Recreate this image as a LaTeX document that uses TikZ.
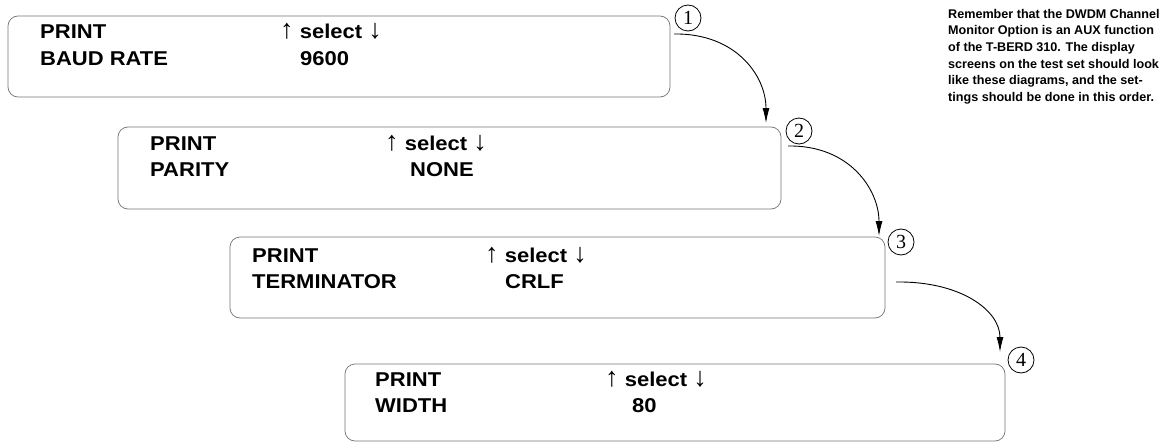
\documentclass[tikz,border=0pt]{standalone}
\usepackage{fontspec}
\setmainfont{Liberation Sans}
\newfontfamily\boxfont[FakeStretch=1.1]{Liberation Sans}
\newfontfamily\seriffont{Liberation Serif}
\usetikzlibrary{arrows.meta}
\tikzset{
  screen/.style={draw=black!55, line width=0.7pt, rounded corners=10pt, anchor=north west, inner sep=0pt, outer sep=0pt, minimum height=81pt},
  lbl/.style={anchor=base west, inner sep=0pt, font=\boxfont\bfseries\fontsize{20}{24}\selectfont},
  num/.style={circle, draw, line width=0.8pt, minimum size=26pt, inner sep=0pt, font=\seriffont\fontsize{20}{20}\selectfont},
  flow/.style={line width=0.9pt, -{Latex[length=15pt,width=7pt]}},
  note/.style={anchor=north west, inner sep=0pt, align=left, font=\bfseries\fontsize{12.6}{16.6}\selectfont}
}
\newcommand{\arrowglyph}[1]{{\seriffont\mdseries\fontsize{27}{27}\selectfont\char"#1}}
\newcommand{\sel}{\arrowglyph{2191}\ select\ \arrowglyph{2193}}
\begin{document}
\begin{tikzpicture}[x=1pt,y=-1pt]
\useasboundingbox (0,0) rectangle (1165,444);
% screens
\node[screen, minimum width=662pt] (s1) at (8,16) {};
\node[screen, minimum width=663pt, minimum height=82pt] (s2) at (118,127) {};
\node[screen, minimum width=655pt] (s3) at (230,237) {};
\node[screen, minimum width=660pt, minimum height=77pt] (s4) at (345,364) {};
% screen 1
\node[lbl] (p1) at (40,39) {PRINT};
\node[lbl] (k1) at (40,66) {BAUD RATE};
\node[lbl] (u1) at (280,39) {\sel};
\node[lbl] (v1) at (300,66) {9600};
% screen 2
\node[lbl] (p2) at (150,150) {PRINT};
\node[lbl] (k2) at (150,176) {PARITY};
\node[lbl] (u2) at (385,150) {\sel};
\node[lbl] (v2) at (410,176) {NONE};
% screen 3
\node[lbl] (p3) at (252,262) {PRINT};
\node[lbl] (k3) at (252,288) {TERMINATOR};
\node[lbl] (u3) at (485,262) {\sel};
\node[lbl] (v3) at (505,288) {CRLF};
% screen 4
\node[lbl] (p4) at (375,386) {PRINT};
\node[lbl] (k4) at (375,412) {WIDTH};
\node[lbl] (u4) at (605,386) {\sel};
\node[lbl] (v4) at (632,412) {80};
% step numbers
\node[num] (n1) at (688,18) {1};
\node[num] (n2) at (799,131) {2};
\node[num] (n3) at (901,242) {3};
\node[num] (n4) at (1021,360) {4};
% arrows
\coordinate (a1s) at (674,34);
\coordinate (a1e) at (766,123);
\coordinate (a2s) at (788,146);
\coordinate (a2e) at (879,236);
\coordinate (a3s) at (896,282);
\coordinate (a3e) at (1000,352);
\draw[flow] (a1s) .. controls (735,33) and (766,75) .. (a1e);
\draw[flow] (a2s) .. controls (850,145) and (879,190) .. (a2e);
\draw[flow] (a3s) .. controls (960,281) and (1000,310) .. (a3e);
% note
\node[note] (txt) at (948,9) {Remember that the DWDM Channel\\
Monitor Option is an AUX function\\
of the T-BERD 310. The display\\
screens on the test set should look\\
like these diagrams, and the set-\\
tings should be done in this order.};
\end{tikzpicture}
\end{document}
